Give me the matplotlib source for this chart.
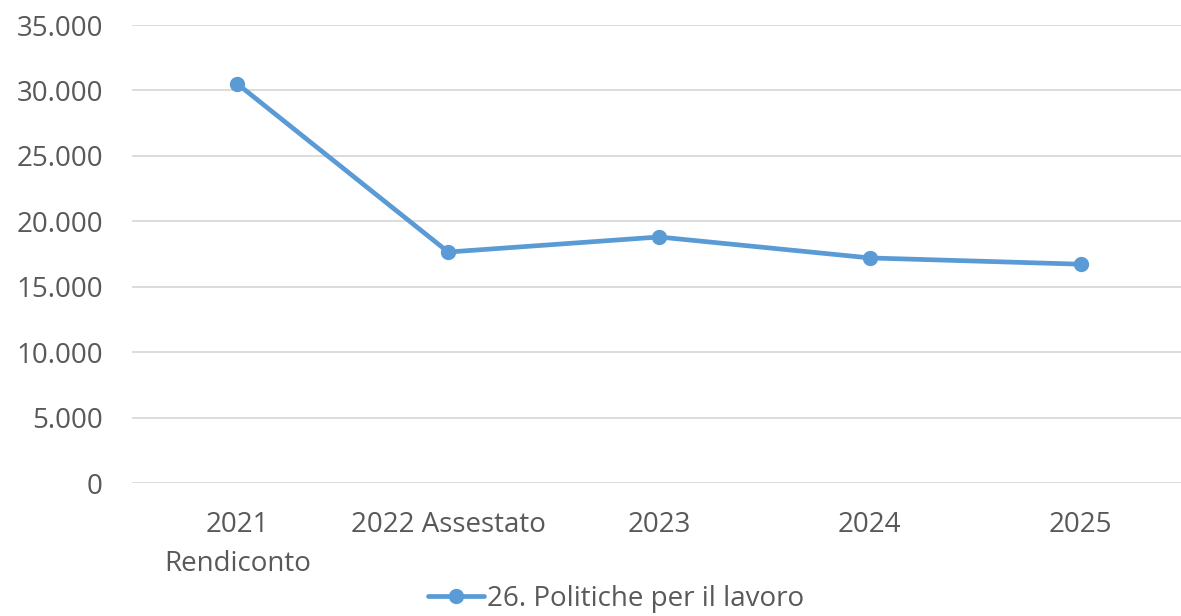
import matplotlib.pyplot as plt
from matplotlib.ticker import FuncFormatter

# -----------------------------
# Data
categories = ["2021\nRendiconto", "2022 Assestato", "2023", "2024", "2025"]
values = [30500, 17650, 18800, 17200, 16720]
series_name = "26. Politiche per il lavoro"

blue = "#5B9BD5"
grey = "#595959"

plt.rcParams['font.family'] = ['Open Sans', 'DejaVu Sans']

fig = plt.figure(figsize=(11.81, 6.16), dpi=100)
ax = fig.add_axes([132 / 1181, 133 / 616, 1054 / 1181, 458 / 616])

x = range(len(categories))
ax.plot(x, values, color=blue, linewidth=3.4, marker='o', markersize=10,
        label=series_name, solid_capstyle='round')

ax.set_xlim(-0.5, len(categories) - 0.5)
ax.set_ylim(0, 35000)
ax.set_yticks(range(0, 35001, 5000))
ax.yaxis.set_major_formatter(FuncFormatter(lambda v, p: f"{int(v):,}".replace(",", ".")))
ax.set_xticks(list(x))
ax.set_xticklabels(categories, linespacing=1.55)

ax.grid(axis='y', color='#D9D9D9', linewidth=1.3)
ax.set_axisbelow(True)
for s in ax.spines.values():
    s.set_visible(False)
ax.tick_params(axis='both', length=0, labelsize=20, colors=grey)
ax.tick_params(axis='y', pad=21)
ax.tick_params(axis='x', pad=20)

leg = fig.legend(loc='center', bbox_to_anchor=(616 / 1181, 1 - 599 / 616), frameon=False,
                 fontsize=20, handlelength=2.0, handletextpad=0.1)
for t in leg.get_texts():
    t.set_color(grey)

fig.savefig("out.png", dpi=100)
